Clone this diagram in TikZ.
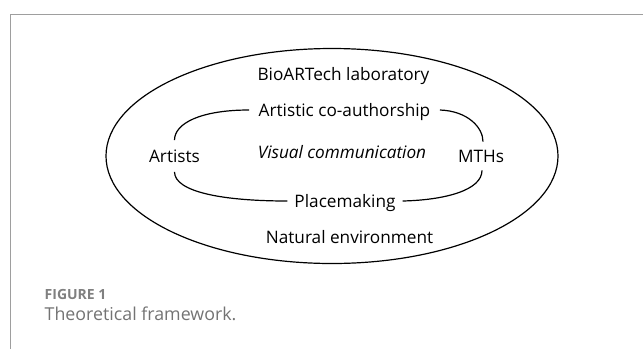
\documentclass[tikz,border=0pt]{standalone}
\usepackage{fontspec}
\usetikzlibrary{shapes.geometric}
\setmainfont{Open Sans}
\begin{document}
\begin{tikzpicture}[x=1pt,y=-1pt,
  lbl/.style={font=\fontsize{17.2}{19}\selectfont, text height=12.3pt, text depth=0pt, inner sep=0pt, anchor=center},
  curve/.style={line width=1.2pt, black},
  framestyle/.style={line width=1pt, draw=black!38}]
\useasboundingbox (0,0) rectangle (643,349);
% frame
\coordinate (ftr) at (643,14);
\coordinate (ftl) at (10,14);
\coordinate (fbl) at (10,349);
\draw[framestyle] (ftr) -- (ftl) -- (fbl);
% outer ellipse
\node[draw, curve, ellipse, minimum width=452pt, minimum height=215pt, inner sep=0pt] (env) at (332,156) {};
% labels
\node[lbl] (lab) at (343.5,74) {BioARTech laboratory};
\node[lbl, inner xsep=9.5pt] (coauth) at (344.5,110) {Artistic co-authorship};
\node[lbl] (visual) at (342,152.5) {\itshape Visual communication};
\node[lbl, inner ysep=9.5pt] (artists) at (174.5,156) {Artists};
\node[lbl, inner ysep=8pt] (mths) at (481,156) {MTHs};
\node[lbl, inner xsep=7pt] (place) at (345,201) {Placemaking};
\node[lbl] (natural) at (349.5,237.5) {Natural environment};
% inner loop segments
\draw[curve] (coauth.west) .. controls +(-48,0) and +(0,-17) .. (artists.north);
\draw[curve] (artists.south) .. controls +(0,20) and +(-65,0) .. (place.west);
\draw[curve] (coauth.east) .. controls +(28,1) and +(0,-14) .. ([xshift=2pt]mths.north);
\draw[curve] ([xshift=1pt]mths.south) .. controls +(0,20) and +(42,-1) .. (place.east);
% caption
\node[font=\fontsize{14}{16}\selectfont\bfseries, text=black!50, anchor=base west, inner sep=0pt] (figno) at (44.5,299) {FIGURE 1};
\node[font=\fontsize{17.8}{20}\selectfont, text=black!55, anchor=base west, inner sep=0pt] (figcap) at (44.5,320) {Theoretical framework.};
\end{tikzpicture}
\end{document}
